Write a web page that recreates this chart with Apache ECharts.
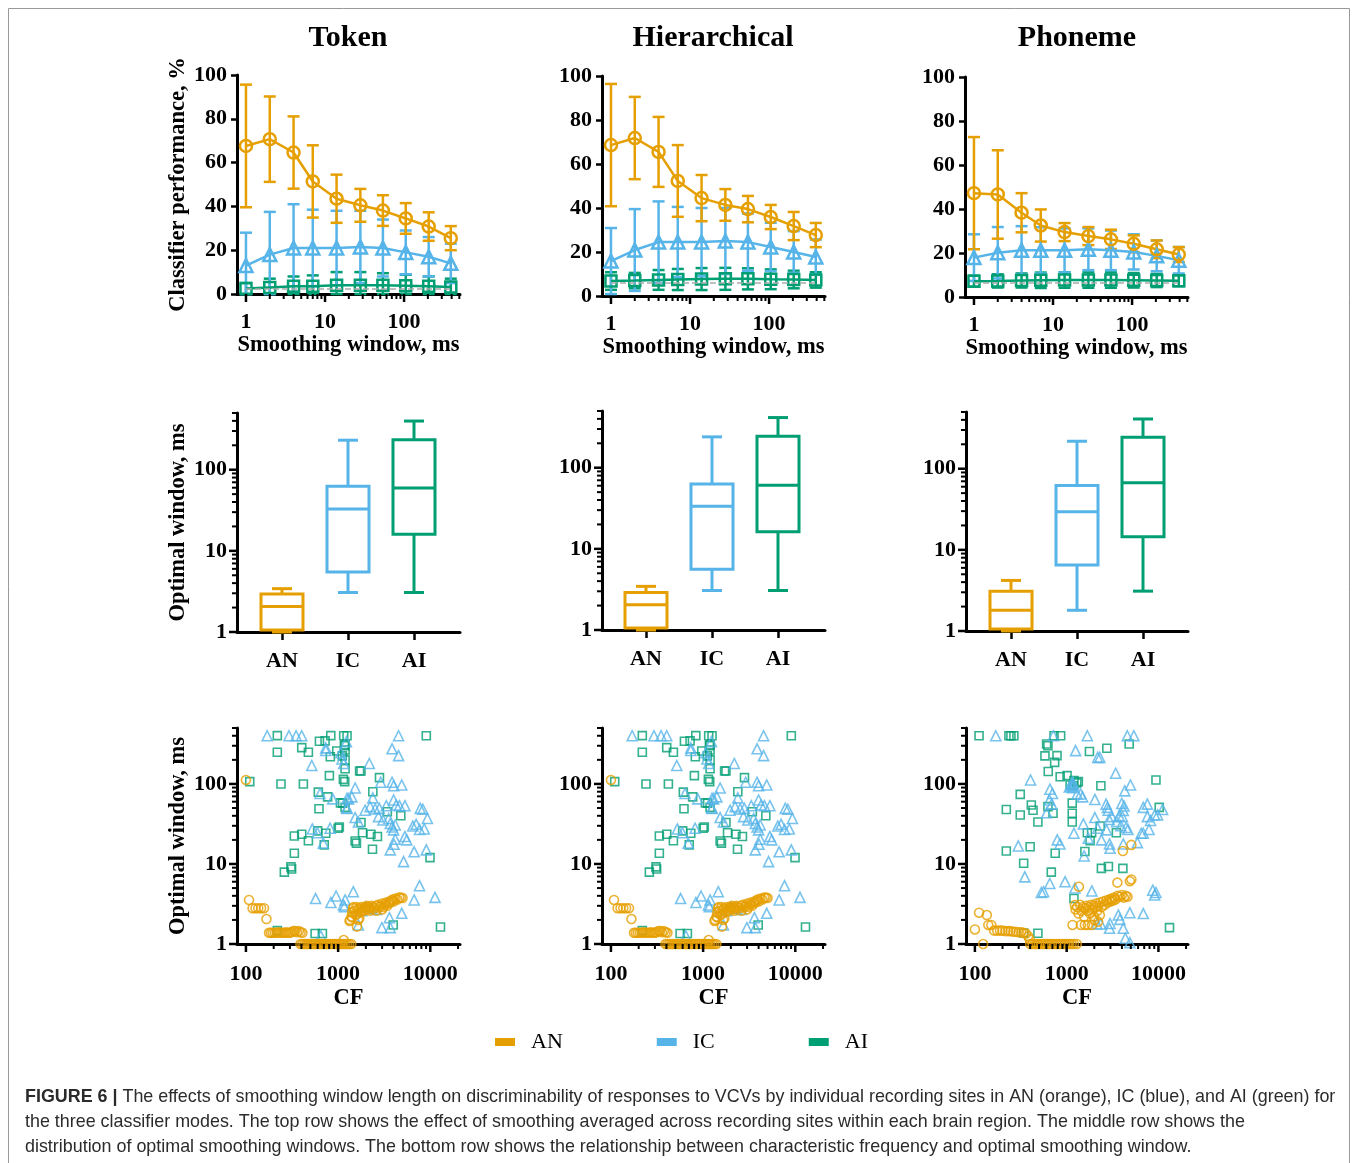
<!DOCTYPE html>
<html>
<head>
<meta charset="utf-8">
<title>Figure 6</title>
<script src="https://cdn.jsdelivr.net/npm/echarts@6/dist/echarts.min.js"></script>
<style>
  html, body { margin: 0; padding: 0; background: #fff; }
  #chart { width: 1358px; height: 1163px; }
</style>
</head>
<body>
<div id="chart"></div>
<script>
var ORANGE = '#E69F00', BLUE = '#56B4E9', GREEN = '#009E73';
var SERIF = '"Liberation Serif", "Times New Roman", serif';
var SANS = '"Liberation Sans", Arial, Helvetica, sans-serif';

// ---- top row: classifier performance vs smoothing window ----
var windows = [1, 2, 4, 7, 14, 28, 54, 105, 205, 390];

var tokAN   = [67.6, 70.7, 64.6, 51.4, 43.5, 40.5, 38.1, 34.5, 30.8, 25.5];
var tokANsd = [28, 19.5, 16.5, 16.5, 11, 7.5, 7, 7, 6.5, 5.5];
var tokIC   = [13, 18, 21, 21, 21, 21.5, 21, 19, 17, 14];
var tokICsd = [15, 19.5, 20, 17.5, 17, 16.5, 13, 10, 9, 9];
var tokAI   = [2.5, 3, 3.5, 3.5, 4, 4, 4, 3.8, 3.5, 3.2];
var tokAIsd = [2.5, 4, 4.5, 5, 6, 6, 5.5, 5, 4.5, 3.8];

var hierAN   = [68.6, 71.8, 65.5, 52.3, 44.5, 41.4, 39.5, 35.9, 31.8, 27.7];
var hierANsd = [27.8, 18.7, 15.9, 16.3, 10.5, 7.2, 6, 5.5, 6.4, 5.5];
var hierIC   = [15.9, 20.9, 24.5, 24.5, 24.5, 25, 24.5, 22.3, 20, 17.7];
var hierICsd = [15, 18.6, 18.5, 16, 15.5, 15, 13, 11, 9.5, 8];
var hierAI   = [6.8, 7, 7.3, 7.5, 7.7, 7.8, 7.8, 7.6, 7.5, 7.3];
var hierAIsd = [4, 3.5, 4.5, 4.8, 5, 5, 4.8, 4.5, 4, 3.5];

var phoAN   = [47.2, 46.6, 38.3, 32.5, 29.5, 27.7, 26.2, 24.2, 21.7, 19.3];
var phoANsd = [25.5, 20.1, 8.9, 7.3, 4.1, 4.1, 4.4, 3.8, 4, 3.4];
var phoIC   = [17.9, 20.1, 21.2, 21.2, 21.2, 21.7, 21.2, 20.5, 18.7, 16.7];
var phoICsd = [10.6, 11.7, 11, 10.5, 10, 9.5, 9, 8, 7, 6];
var phoAI   = [7.2, 7.3, 7.5, 7.6, 7.7, 7.7, 7.7, 7.6, 7.5, 7.4];
var phoAIsd = [2.5, 3, 3.2, 3.5, 3.5, 3.5, 3.5, 3.3, 3, 2.5];

var chanceLevel = [2.2, 6.2, 6.5];

// ---- middle row: optimal window box plots [low, q1, median, q3, high] ----
var regions = ['AN', 'IC', 'AI'];
var boxTok  = [[1, 1.06, 2.06, 2.94, 3.42], [3.07, 5.5, 32.8, 62.7, 231], [3.07, 16, 59.7, 234, 398]];
var boxHier = [[1, 1.06, 2.05, 2.9, 3.45], [3.07, 5.6, 33.5, 63, 240], [3.07, 16.3, 61, 245, 415]];
var boxPho  = [[1, 1.06, 1.8, 3.1, 4.2], [1.8, 6.5, 29.5, 62, 218], [3.1, 14.5, 67, 245, 410]];

// ---- bottom row: CF vs optimal window, [CF, window] ----
// token and hierarchical panels show the same sites
var scatTokAN = [[100,112],[108,3.55],[118,2.8],[127,2.8],[136,2.8],[146,2.8],[157,2.8],[167,2.05],
  [178,1.38],[186,1.38],[195,1.38],[205,1.38],[215,1.38],[225,1.4],[236,1.38],[248,1.38],[260,1.38],[272,1.4],
  [285,1.38],[298,1.38],[312,1.4],[327,1.45],[342,1.45],[358,1.4],[375,1.45],[392,1.4],[410,1.38],
  [390,1],[410,1],[430,1],[450,1],[470,1],[495,1],[520,1],[545,1],[570,1],[600,1],[630,1],[660,1],[690,1],
  [720,1],[755,1],[790,1],[830,1],[870,1],[910,1],[950,1],[1000,1],[1050,1],[1100,1],[1150,1],[1200,1],
  [1260,1],[1320,1],[1390,1],[1150,1.12],
  [1330,1.94],[1400,2.2],[1420,2.5],[1450,2.8],[1480,2.9],[1500,2.6],[1550,2.3],[1580,2.9],[1600,1.65],
  [1620,2.4],[1650,2.7],[1700,2.8],[1750,2.5],[1800,2.9],[1850,2.7],[1900,2.6],[1950,2.9],[2000,2.8],
  [2050,3.0],[2100,2.7],[2150,2.9],[2200,2.8],[2300,3.0],[2400,2.9],[2500,2.8],[2600,3.0],[2700,3.1],
  [2800,2.9],[2900,3.0],[3000,3.2],[3100,2.9],[3200,3.1],[3300,3.3],[3400,3.0],[3500,3.2],[3600,3.4],
  [3700,3.3],[3800,3.5],[3900,3.6],[4000,3.4],[4200,3.7],[4400,3.6],[4600,3.8],[4800,3.8],[5000,3.75],
  [1700,2.1],[1650,2.0],[2200,2.6],[2600,2.6],[3000,2.7],[1420,2.15],[1350,2.0]];
var scatTokIC = [[170,400],[293,400],[350,400],[403,400],[4530,400],[735,282],[735,262],[518,170],
  [1070,245],[1100,205],[1150,180],[1230,338],[3850,275],[4530,226],[2180,180],[636,76],[875,65],[1250,66],
  [1250,50],[525,27.4],[595,24.6],[818,28],[690,18.2],[1530,89],[2900,105],[3850,105],[4000,95],[4900,97],
  [1410,69],[1300,65],[2380,67],[1960,47],[2220,52],[2520,48.7],[2800,49.5],[3330,53.5],[4000,63],
  [4260,54.5],[4620,53.5],[5300,53.5],[7780,49.5],[8300,48.3],[9300,37],[1240,49.5],[1530,38],[1660,33.5],
  [2740,39],[3060,35.5],[3540,37],[3680,32],[3850,29],[4000,26.7],[4160,30.7],[6460,29.8],[7020,31.3],
  [7640,27],[8600,27.4],[5300,22],[5550,20],[4160,20.4],[4040,17.6],[3680,15],[6680,14.2],[9050,15],
  [5130,10.7],[570,3.7],[835,3.3],[950,3.98],[1190,3.55],[1170,2.93],[650,1.26],[1460,4.5],[7640,5.35],
  [11250,3.83],[6680,3.55],[1140,3.07],[4900,2.42],[3600,2.13],[2980,1.6],[3680,1.6],[1660,1.73],
  [2000,2.9],[2600,2.7],[1800,2.6],[2300,2.8]];
var scatTokAI = [[219,402],[627,342],[833,402],[403,284],[476,249],[219,249],[722,345],[823,219],[967,258],
  [1170,300],[1150,400],[1250,400],[804,127],[1140,114],[1180,107],[110,107],[240,100],[420,100],[610,79],
  [770,69],[1120,57.5],[620,49],[1030,29],[1000,28],[335,22.4],[403,23.5],[476,19.5],[600,25.9],[735,24.2],
  [707,17.3],[335,13.6],[308,9.2],[313,8.66],[261,7.9],[9050,400],[1190,309],[1190,265],[1190,200],
  [1190,155],[1770,145],[2810,120],[2380,80],[1060,58],[1190,51],[4790,40],[1770,33],[1840,24.6],
  [2270,23.5],[2670,22],[1530,19.4],[1580,18.2],[2360,15.3],[9930,12],[3960,1.73],[12900,1.63],
  [219,1.47],[563,1.35],[675,1.35],[3420,45],[1110,224],[1710,145]];

var scatPhoAN = [[100,1.52],[111,2.46],[135,2.3],[123,1.0],[140,1.73],[151,1.73],
  [162,1.47],[175,1.47],[188,1.47],[200,1.47],[215,1.45],[230,1.45],[245,1.45],[262,1.42],[280,1.42],
  [300,1.4],[320,1.4],[340,1.38],[360,1.35],[380,1.25],[395,1.15],
  [400,1],[425,1],[450,1],[475,1],[500,1],[530,1],[560,1],[590,1],[620,1],[650,1],[690,1],[730,1],
  [770,1],[810,1],[860,1],[910,1],[960,1],[1010,1],[1070,1],[1130,1],[1200,1],[1290,1],
  [1360,5.2],[1230,3.07],[1160,1.73],[1250,2.7],[1300,2.9],[1350,2.4],[1400,3.1],[1450,2.6],[1500,2.9],
  [1550,2.2],[1580,1.73],[1600,2.8],[1650,3.0],[1700,2.6],[1750,2.9],[1800,2.4],[1850,3.1],[1880,1.73],
  [1900,2.7],[1950,3.0],[2000,2.2],[2050,2.9],[2100,3.2],[2150,2.6],[2200,3.0],[2300,3.3],[2400,2.9],
  [2500,3.4],[2600,3.1],[2700,3.5],[2800,3.3],[2900,3.6],[3000,3.4],[3100,3.7],[3200,3.5],[3300,3.8],
  [3400,3.6],[3570,5.85],[3600,4.0],[3800,3.9],[4000,4.1],[4200,3.8],[4400,4.0],[4600,3.9],[4880,6.1],
  [5070,6.4],[4100,14.5],[5070,17.3],[2000,2.0],[2300,2.3],[2200,1.9],[1430,1.73],[1700,1.73]];
var scatPhoIC = [[169,400],[715,400],[1680,400],[4580,400],[5400,400],[1250,261],[2180,215],[2300,215],
  [3420,136],[404,112],[657,86],[700,76],[650,63],[687,56],[1070,92],[1160,100],[1300,75],[1420,75],
  [1490,69],[2030,64],[4300,82],[4960,97],[6840,51],[7570,56],[9800,41],[9100,41],[11100,48],[7570,39],
  [8200,35],[6840,24.2],[6500,24.2],[5900,18.5],[7900,27],[2690,56],[2780,51],[2840,47],[3100,39],
  [2900,36],[3730,40],[3980,57],[4220,53],[4140,46.5],[4050,39],[3510,33.8],[3890,30],[4440,28.6],
  [4650,27],[2030,38],[2180,28],[2720,26.7],[1520,31.6],[1200,24.2],[605,43.6],[790,20],[1720,21],
  [2970,15.7],[4140,17.8],[2930,17.8],[297,16.8],[845,17.8],[1550,12.6],[2390,20],[350,6.9],[655,5.7],
  [530,4.4],[560,4.5],[960,6],[1880,4.6],[3660,2.3],[3800,2.03],[4140,1.57],[4880,2.46],[6840,2.4],
  [8670,4.7],[9100,4.1],[9400,4.4],[2970,1.8],[2930,1.57],[2350,1.78],[4360,1.18],[4880,1.04],
  [2140,1.78],[1230,5],[1130,95],[1160,90],[1190,100],[1150,105]];
var scatPhoAI = [[111,400],[235,400],[247,400],[266,400],[728,400],[860,400],[605,316],[625,300],[580,224],
  [785,226],[740,186],[630,143],[850,123],[1010,127],[1090,97],[1200,110],[1290,103],[1340,107],[1180,95],
  [1770,254],[2740,279],[4800,316],[2360,95],[9400,112],[10200,51],[220,48],[312,74],[312,41],[412,54.6],
  [430,47],[486,33.5],[710,43],[625,52],[1150,57.5],[1150,43],[1150,33.5],[1680,24.6],[1870,24.6],
  [1800,19.6],[2320,29.8],[3480,24.6],[1580,14.3],[220,14.5],[400,16.4],[750,13.6],[340,10.2],[680,7.9],
  [2390,8.8],[2850,9.3],[4100,8.8],[1200,3.7],[486,1.36],[340,1.37],[13200,1.6]];

// axis tick values
var topMajor = [1, 10, 100];
var topMinor = [2, 3, 4, 5, 6, 7, 8, 9, 20, 30, 40, 50, 60, 70, 80, 90, 200, 300, 400, 500];
var winMajor = [1, 10, 100];
var winMinor = [2, 3, 4, 5, 6, 7, 8, 9, 20, 30, 40, 50, 60, 70, 80, 90, 200, 300, 400, 500];
var cfMajor = [100, 1000, 10000];
var cfMinor = [200, 300, 400, 500, 600, 700, 800, 900, 2000, 3000, 4000, 5000, 6000, 7000, 8000, 9000, 20000];

var titles = ['Token', 'Hierarchical', 'Phoneme'];

var TOP = [[237, 75, 223, 219], [602, 76, 223, 220], [965, 77, 223, 220]];
var MID = [[237, 413, 223, 219], [602, 411, 223, 219], [966, 412, 222, 219]];
var MIDCAT = [12, 11, 12];
var BOT = [[237, 728, 223, 216], [602, 728, 223, 216], [966, 728, 222, 216]];

var grids = [], xAxes = [], yAxes = [], series = [];

var axisLine = { show: true, lineStyle: { color: '#000', width: 3 } };
var labelBase = { color: '#000', fontFamily: SERIF, fontWeight: 'bold', fontSize: 22 };
var nameBase = { color: '#000', fontFamily: SERIF, fontWeight: 'bold', fontSize: 22.5 };

function powLabel(v) {
  var e = Math.log(v) / Math.LN10;
  return Math.abs(e - Math.round(e)) < 1e-6 ? String(Math.round(v)) : '';
}
function lbl(extra) { return Object.assign({}, labelBase, extra); }

function addGrid(r) {
  grids.push({ left: r[0], top: r[1], width: r[2], height: r[3] });
  return grids.length - 1;
}

function renderTicks(params, api) {
  var cs = params.coordSys;
  var isY = api.value(2) === 1, major = api.value(3) === 1;
  var len = major ? 8 : 5;
  var p = api.coord([api.value(0), api.value(1)]);
  var shape = isY
    ? { x1: cs.x - len, y1: p[1], x2: cs.x, y2: p[1] }
    : { x1: p[0], y1: cs.y + cs.height, x2: p[0], y2: cs.y + cs.height + len };
  return { type: 'line', shape: shape, style: { stroke: '#000', lineWidth: major ? 2.5 : 2 } };
}

function tickSeries(xi, yi, xTicks, yTicks, xRef, yRef) {
  var data = [];
  if (xTicks) {
    xTicks[0].forEach(function (v) { data.push([v, yRef, 0, 1]); });
    xTicks[1].forEach(function (v) { data.push([v, yRef, 0, 0]); });
  }
  if (yTicks) {
    yTicks[0].forEach(function (v) { data.push([xRef, v, 1, 1]); });
    yTicks[1].forEach(function (v) { data.push([xRef, v, 1, 0]); });
  }
  series.push({
    type: 'custom', name: 'ticks', xAxisIndex: xi, yAxisIndex: yi, silent: true, z: 5,
    renderItem: renderTicks, data: data
  });
}

function renderErr(params, api) {
  var x = api.value(0);
  var top = api.coord([x, api.value(2)]), bot = api.coord([x, api.value(1)]);
  var w = 6;
  var st = { stroke: api.visual('color'), lineWidth: 2.5 };
  return {
    type: 'group', children: [
      { type: 'line', shape: { x1: top[0], y1: top[1], x2: bot[0], y2: bot[1] }, style: st },
      { type: 'line', shape: { x1: top[0] - w, y1: top[1], x2: top[0] + w, y2: top[1] }, style: st },
      { type: 'line', shape: { x1: bot[0] - w, y1: bot[1], x2: bot[0] + w, y2: bot[1] }, style: st }
    ]
  };
}

function topGroup(xi, yi, name, color, symbol, size, mean, sd, chance) {
  var line = {
    type: 'line', name: name, xAxisIndex: xi, yAxisIndex: yi,
    data: windows.map(function (w, i) { return [w, mean[i]]; }),
    symbol: symbol, symbolSize: size, showSymbol: true,
    lineStyle: { color: color, width: 2.5 },
    itemStyle: { color: 'rgba(255,255,255,0)', borderColor: color, borderWidth: 2.5 }
  };
  if (chance != null) {
    line.markLine = {
      silent: true, symbol: 'none', label: { show: false },
      lineStyle: { type: 'dashed', color: '#aaaaaa', width: 1.5 },
      data: [[{ coord: [windows[0], chance] }, { coord: [windows[windows.length - 1], chance] }]]
    };
  }
  series.push(line);
  series.push({
    type: 'custom', name: name + ' sd', xAxisIndex: xi, yAxisIndex: yi, silent: true,
    itemStyle: { color: color }, renderItem: renderErr,
    data: windows.map(function (w, i) { return [w, Math.max(0, mean[i] - sd[i]), mean[i] + sd[i]]; })
  });
}

function topPanel(k, groups) {
  var g = addGrid(TOP[k]);
  xAxes.push({
    type: 'log', logBase: 10, gridIndex: g, min: 0.77, max: 510,
    axisLine: axisLine, axisTick: { show: false }, splitLine: { show: false },
    axisLabel: lbl({ margin: 17, formatter: powLabel }),
    name: 'Smoothing window, ms', nameLocation: 'middle', nameGap: 40, nameTextStyle: nameBase
  });
  yAxes.push({
    type: 'value', gridIndex: g, min: 0, max: 100, interval: 20,
    axisLine: axisLine, axisTick: { show: true, length: 6, lineStyle: { color: '#000', width: 2.5 } },
    splitLine: { show: false }, axisLabel: lbl({ margin: 10 }),
    name: k === 0 ? 'Classifier performance, %' : '', nameLocation: 'middle', nameGap: 47,
    nameRotate: 90, nameTextStyle: nameBase
  });
  var xi = xAxes.length - 1, yi = yAxes.length - 1;
  topGroup(xi, yi, 'AI', GREEN, 'rect', 11, groups[2][0], groups[2][1], chanceLevel[k]);
  topGroup(xi, yi, 'IC', BLUE, 'triangle', 13, groups[1][0], groups[1][1]);
  topGroup(xi, yi, 'AN', ORANGE, 'circle', 12, groups[0][0], groups[0][1]);
  tickSeries(xi, yi, [topMajor, topMinor], null, 1, 0);
}

function renderBox(params, api) {
  var c = api.value(0);
  var lo = api.coord([c, api.value(1)]), q1 = api.coord([c, api.value(2)]);
  var md = api.coord([c, api.value(3)]), q3 = api.coord([c, api.value(4)]);
  var hi = api.coord([c, api.value(5)]);
  var x = lo[0], bw = 21, cw = 10;
  var st = { stroke: api.visual('color'), lineWidth: 3, fill: null };
  return {
    type: 'group', children: [
      { type: 'line', shape: { x1: x, y1: q3[1], x2: x, y2: hi[1] }, style: st },
      { type: 'line', shape: { x1: x, y1: q1[1], x2: x, y2: lo[1] }, style: st },
      { type: 'line', shape: { x1: x - cw, y1: hi[1], x2: x + cw, y2: hi[1] }, style: st },
      { type: 'line', shape: { x1: x - cw, y1: lo[1], x2: x + cw, y2: lo[1] }, style: st },
      { type: 'rect', shape: { x: x - bw, y: q3[1], width: 2 * bw, height: q1[1] - q3[1] }, style: st },
      { type: 'line', shape: { x1: x - bw, y1: md[1], x2: x + bw, y2: md[1] }, style: st }
    ]
  };
}

function midPanel(k, boxes) {
  var r = MID[k];
  var g = addGrid(r);
  xAxes.push({
    type: 'value', gridIndex: g, min: 0, max: 1, axisLine: axisLine,
    axisTick: { show: false }, axisLabel: { show: false }, splitLine: { show: false }
  });
  yAxes.push({
    type: 'log', logBase: 10, gridIndex: g, min: 1, max: 500,
    axisLine: axisLine, axisTick: { show: false }, splitLine: { show: false },
    axisLabel: lbl({ margin: 10, formatter: powLabel }),
    name: k === 0 ? 'Optimal window, ms' : '', nameLocation: 'middle', nameGap: 47,
    nameRotate: 90, nameTextStyle: nameBase
  });
  tickSeries(xAxes.length - 1, yAxes.length - 1, null, [winMajor, winMinor], 0.5, 1);

  var gc = addGrid([r[0] + MIDCAT[k], r[1], 198, r[3]]);
  xAxes.push({
    type: 'category', gridIndex: gc, data: regions,
    axisLine: { show: false },
    axisTick: { show: true, alignWithLabel: true, length: 8, lineStyle: { color: '#000', width: 2.5 } },
    axisLabel: lbl({ margin: 18 }), splitLine: { show: false }
  });
  yAxes.push({ type: 'log', logBase: 10, gridIndex: gc, min: 1, max: 500, show: false });
  var xi = xAxes.length - 1, yi = yAxes.length - 1;
  var cols = [ORANGE, BLUE, GREEN];
  regions.forEach(function (reg, i) {
    series.push({
      type: 'custom', name: reg + ' box', xAxisIndex: xi, yAxisIndex: yi, silent: true,
      itemStyle: { color: cols[i] }, renderItem: renderBox,
      encode: { x: 0, y: [1, 2, 3, 4, 5] },
      data: [[i].concat(boxes[i])]
    });
  });
}

function botPanel(k, an, ic, ai) {
  var g = addGrid(BOT[k]);
  xAxes.push({
    type: 'log', logBase: 10, gridIndex: g, min: 80, max: 21000,
    axisLine: axisLine, axisTick: { show: false }, splitLine: { show: false },
    axisLabel: lbl({ margin: 19, formatter: powLabel }),
    name: 'CF', nameLocation: 'middle', nameGap: 43, nameTextStyle: nameBase
  });
  yAxes.push({
    type: 'log', logBase: 10, gridIndex: g, min: 1, max: 500,
    axisLine: axisLine, axisTick: { show: false }, splitLine: { show: false },
    axisLabel: lbl({ margin: 10, formatter: powLabel }),
    name: k === 0 ? 'Optimal window, ms' : '', nameLocation: 'middle', nameGap: 47,
    nameRotate: 90, nameTextStyle: nameBase
  });
  var xi = xAxes.length - 1, yi = yAxes.length - 1;
  [['AI', GREEN, 'rect', 8, ai], ['IC', BLUE, 'triangle', 10, ic], ['AN', ORANGE, 'circle', 9, an]].forEach(function (s) {
    series.push({
      type: 'scatter', name: s[0], xAxisIndex: xi, yAxisIndex: yi, data: s[4],
      symbol: s[2], symbolSize: s[3],
      itemStyle: { color: 'rgba(255,255,255,0)', borderColor: s[1], borderWidth: 1.6 }
    });
  });
  tickSeries(xi, yi, [cfMajor, cfMinor], [winMajor, winMinor], 80, 1);
}

topPanel(0, [[tokAN, tokANsd], [tokIC, tokICsd], [tokAI, tokAIsd]]);
topPanel(1, [[hierAN, hierANsd], [hierIC, hierICsd], [hierAI, hierAIsd]]);
topPanel(2, [[phoAN, phoANsd], [phoIC, phoICsd], [phoAI, phoAIsd]]);
midPanel(0, boxTok);
midPanel(1, boxHier);
midPanel(2, boxPho);
botPanel(0, scatTokAN, scatTokIC, scatTokAI);
botPanel(1, scatTokAN, scatTokIC, scatTokAI);
botPanel(2, scatPhoAN, scatPhoIC, scatPhoAI);

var graphics = [
  { type: 'rect', shape: { x: 8.5, y: 8.5, width: 1341, height: 1200 }, style: { fill: null, stroke: '#999', lineWidth: 1 }, silent: true }
];
[348, 713, 1077].forEach(function (cx, i) {
  graphics.push({
    type: 'text', x: cx, y: 38, silent: true,
    style: { text: titles[i], align: 'center', verticalAlign: 'middle', fill: '#000',
      fontFamily: SERIF, fontWeight: 'bold', fontSize: 30 }
  });
});
var capLines = [
  '{b|FIGURE 6 |} The effects of smoothing window length on discriminability of responses to VCVs by individual recording sites in AN (orange), IC (blue), and AI (green) for',
  'the three classifier modes. The top row shows the effect of smoothing averaged across recording sites within each brain region. The middle row shows the',
  'distribution of optimal smoothing windows. The bottom row shows the relationship between characteristic frequency and optimal smoothing window.'
];
capLines.forEach(function (t, i) {
  graphics.push({
    type: 'text', x: 25, y: 1097 + i * 25, silent: true,
    style: { text: t, align: 'left', verticalAlign: 'middle', fill: '#2b2b2b',
      fontFamily: SANS, fontSize: 17.9,
      rich: { b: { fontFamily: SANS, fontSize: 17.9, fontWeight: 'bold', fill: '#2b2b2b' } } }
  });
});

var chart = echarts.init(document.getElementById('chart'));
chart.setOption({
  animation: false,
  backgroundColor: '#fff',
  textStyle: { fontFamily: SERIF },
  grid: grids,
  xAxis: xAxes,
  yAxis: yAxes,
  legend: {
    left: 495, top: 1031, padding: 0, icon: 'rect', itemWidth: 20, itemHeight: 8, itemGap: 94,
    selectedMode: false,
    textStyle: { fontFamily: SERIF, fontSize: 22, color: '#000', padding: [0, 0, 0, 11] },
    data: [
      { name: 'AN', itemStyle: { color: ORANGE, borderWidth: 0 } },
      { name: 'IC', itemStyle: { color: BLUE, borderWidth: 0 } },
      { name: 'AI', itemStyle: { color: GREEN, borderWidth: 0 } }
    ]
  },
  graphic: graphics,
  series: series
});
</script>
</body>
</html>
